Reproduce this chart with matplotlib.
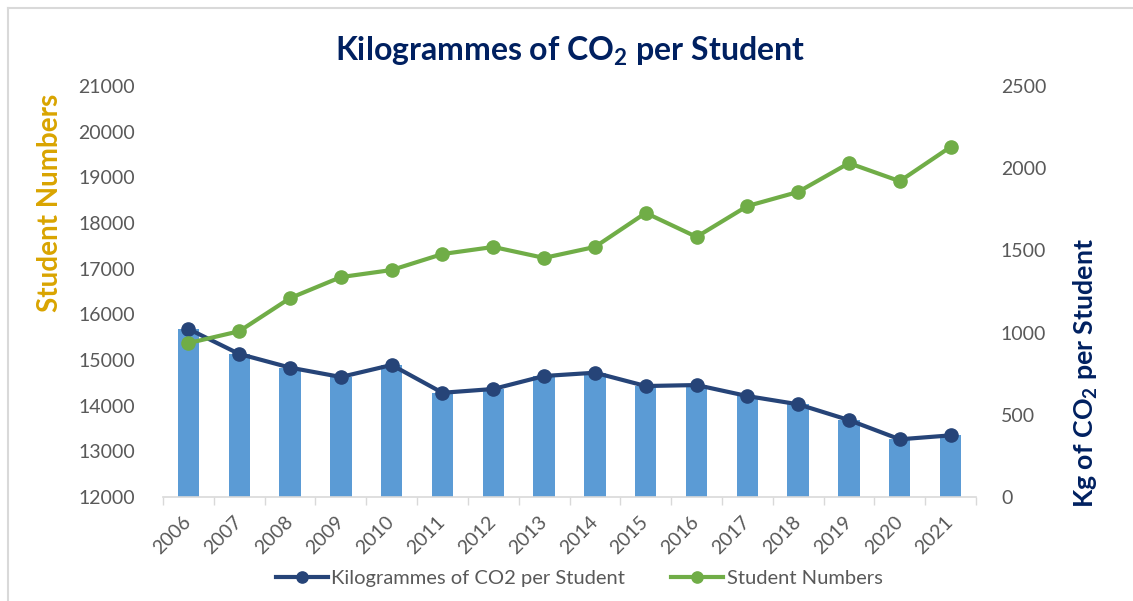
import numpy as np
import matplotlib
matplotlib.use("Agg")
from matplotlib import pyplot as plt
from matplotlib.lines import Line2D

plt.rcParams['font.family'] = ['Lato', 'DejaVu Sans']
plt.rcParams['mathtext.fontset'] = 'custom'
plt.rcParams['mathtext.rm'] = 'Lato'
plt.rcParams['mathtext.bf'] = 'Lato:bold'

# data
years = ['2006', '2007', '2008', '2009', '2010', '2011', '2012', '2013',
         '2014', '2015', '2016', '2017', '2018', '2019', '2020', '2021']
kg_co2 = [1022, 870, 787, 730, 803, 634, 657, 736,
          756, 675, 681, 614, 564, 468, 351, 375]
students = [15370, 15630, 16355, 16815, 16970, 17320, 17475, 17235,
            17475, 18220, 17695, 18370, 18680, 19310, 18915, 19665]

navy = '#002060'
dark_line = '#264478'
bar_col = '#5B9BD5'
green = '#70AD47'
gold = '#D9A400'
grey_txt = '#595959'

fig = plt.figure(figsize=(11.33, 6.01), dpi=100)
# chart-area border (only top and left edges visible in the crop)
fig.add_artist(Line2D([0.007, 1.0], [0.986, 0.986], transform=fig.transFigure, color='#D9D9D9', lw=1.5))
fig.add_artist(Line2D([0.007, 0.007], [0.0, 0.986], transform=fig.transFigure, color='#D9D9D9', lw=1.5))

ax = fig.add_axes([0.1439, 0.173, 0.7175, 0.684])
ax2 = ax.twinx()
ax.set_zorder(ax2.get_zorder() + 1)
ax.patch.set_visible(False)

x = np.arange(len(years))

# bars + CO2 line on the right axis
ax2.bar(x, kg_co2, width=0.42, color=bar_col, zorder=1)
ax2.plot(x, kg_co2, color=dark_line, lw=3, marker='o', ms=9.5, zorder=3,
         label='Kilogrammes of CO2 per Student')
# student numbers on the left axis
ax.plot(x, students, color=green, lw=3, marker='o', ms=9.5, zorder=3,
        label='Student Numbers')

ax.set_ylim(12000, 21000)
ax.set_yticks(np.arange(12000, 21001, 1000))
ax2.set_ylim(0, 2500)
ax2.set_yticks(np.arange(0, 2501, 500))
ax.set_xlim(-0.5, len(years) - 0.5)

ax.set_xticks(x)
ax.set_xticklabels(years, rotation=45, ha='right', va='center', rotation_mode='anchor')
ax.set_xticks(np.arange(-0.5, len(years), 1), minor=True)
ax.tick_params(axis='x', which='major', length=0, pad=16, labelsize=14, colors=grey_txt)
ax.tick_params(axis='x', which='minor', length=6, width=1, color='#D9D9D9')
ax.tick_params(axis='y', length=0, pad=20, labelsize=14, colors=grey_txt)
ax2.tick_params(axis='y', length=0, pad=18, labelsize=14, colors=grey_txt)

for a in (ax, ax2):
    for s in ('top', 'left', 'right'):
        a.spines[s].set_visible(False)
    a.spines['bottom'].set_color('#D9D9D9')
    a.spines['bottom'].set_linewidth(1.2)
ax2.spines['bottom'].set_visible(False)

fig.text(0.503, 0.915, r'Kilogrammes of CO$\mathbf{_2}$ per Student', ha='center', va='center',
         fontsize=23, fontweight='bold', color=navy)
fig.text(0.044, 0.663, 'Student Numbers', rotation=90, ha='center', va='center',
         fontsize=20, fontweight='bold', color=gold)
fig.text(0.958, 0.38, r'Kg of CO$\mathbf{_2}$ per Student', rotation=90, ha='center', va='center',
         fontsize=19.3, fontweight='bold', color=navy)

h1, l1 = ax2.get_legend_handles_labels()
h2, l2 = ax.get_legend_handles_labels()
fig.legend(h1 + h2, l1 + l2, loc='center', bbox_to_anchor=(0.511, 0.038), ncol=2,
           frameon=False, fontsize=14.5, labelcolor=grey_txt, handlelength=2.6,
           columnspacing=2.3, handletextpad=0.15, markerscale=0.85)

plt.savefig('out.png', dpi=100)
